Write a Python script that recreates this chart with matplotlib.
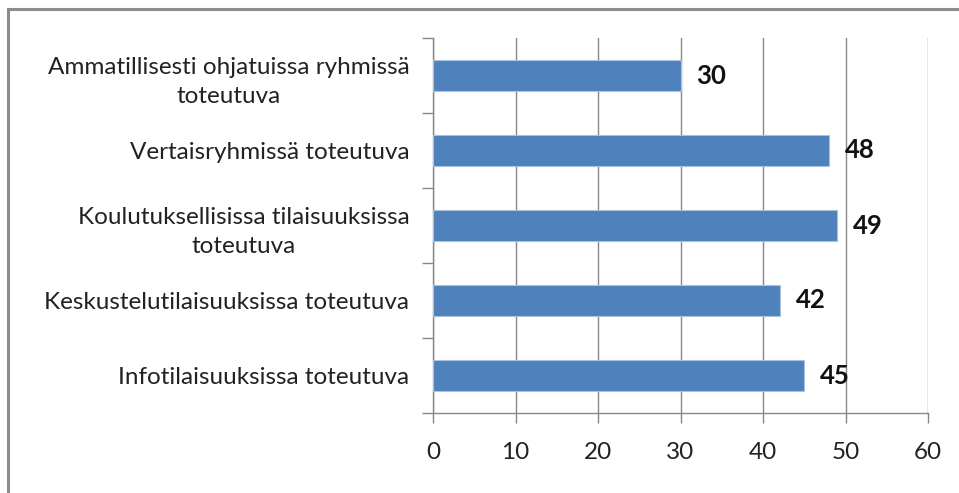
import matplotlib
matplotlib.use("Agg")
import matplotlib.pyplot as plt
from matplotlib.patches import Rectangle

categories = [
    "Ammatillisesti ohjatuissa ryhmissä\ntoteutuva",
    "Vertaisryhmissä toteutuva",
    "Koulutuksellisissa tilaisuuksissa\ntoteutuva",
    "Keskustelutilaisuuksissa toteutuva",
    "Infotilaisuuksissa toteutuva",
]
values = [30, 48, 49, 42, 45]
x_ticks = [0, 10, 20, 30, 40, 50, 60]

plt.rcParams['font.family'] = ['Lato', 'DejaVu Sans']

fig = plt.figure(figsize=(9.59, 4.93), dpi=100)
ax = fig.add_axes([433/959, 1 - 413/493, (928-433)/959, (413-38)/493])

n = len(categories)
ypos = list(range(n))
ax.barh(ypos, values, height=0.41, color='#4F81BD', edgecolor='#a9c2e0', linewidth=0.8, zorder=3)
ax.set_ylim(n - 0.5, -0.5)
ax.set_xlim(0, 60)
ax.set_xticks(x_ticks)
ax.set_xticklabels([str(t) for t in x_ticks], fontsize=17.5, color='#222222')

ax.set_yticks(ypos)
ax.set_yticklabels(categories, fontsize=17.5, color='#222222', multialignment='center', linespacing=1.5)
ax.tick_params(axis='y', which='major', length=0, pad=17)
ax.set_yticks([i - 0.5 for i in range(n + 1)], minor=True)
ax.tick_params(axis='y', which='minor', length=8, width=1, color='#878787', direction='out')
ax.tick_params(axis='x', which='major', length=7, width=1, color='#878787', direction='out', pad=14)

ax.grid(axis='x', color='#878787', linewidth=1, zorder=0)
ax.grid(axis='y', visible=False)
for s in ['top', 'right']:
    ax.spines[s].set_visible(False)
for s in ['left', 'bottom']:
    ax.spines[s].set_color('#878787')
    ax.spines[s].set_linewidth(1)

for y, v in zip(ypos, values):
    ax.annotate(str(v), xy=(v, y), xytext=(16, 0), textcoords='offset pixels',
                ha='left', va='center', fontsize=18.5, fontweight='bold', color='#111111', zorder=4)

fig.patches.append(Rectangle((8/959, -0.1), 1.2, 1 - 9/493 + 0.1, transform=fig.transFigure,
                             fill=False, edgecolor='#8c8c8c', linewidth=2.2))

fig.savefig('out.png', dpi=100, facecolor='white')
